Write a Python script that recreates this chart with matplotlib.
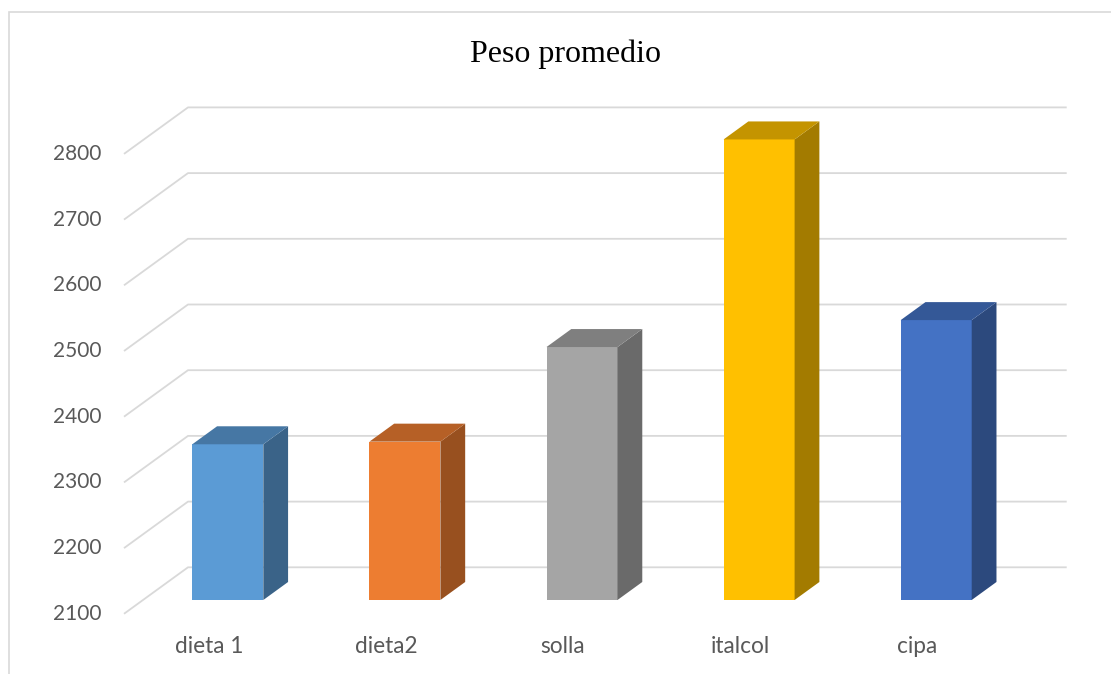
import numpy as np
import matplotlib.pyplot as plt
from matplotlib.patches import Polygon, Rectangle
from matplotlib.colors import to_rgb

# data
categories = ['dieta 1', 'dieta2', 'solla', 'italcol', 'cipa']
values = [2337, 2341, 2485, 2801, 2526]
bar_colors = ['#5B9BD5', '#ED7D31', '#A5A5A5', '#FFC000', '#4472C4']
ticks = [2100, 2200, 2300, 2400, 2500, 2600, 2700, 2800]
title = 'Peso promedio'

# layout of the fake 3d box (category units / value units)
W_PX, H_PX = 1111, 674
px_cat = 177.1          # pixels per category
cat0_px = 208.8         # pixel x of first category on front plane
px_val = 0.657          # pixels per value unit
floor_px = 613.8        # pixel y of 2100 on the front plane
base = 2100
DX = 64 / px_cat        # depth vector, x part
DY = 46.5 / px_val      # depth vector, y part
D0, D1 = 0.297, 0.684   # bar front / back depth
W = 71 / px_cat         # bar width
wall_x = (124 - cat0_px) / px_cat
wall_end = (1066.7 - cat0_px) / px_cat

def shade(c, f):
    r, g, b = to_rgb(c)
    return (r * f, g * f, b * f)

fig = plt.figure(figsize=(W_PX / 100, H_PX / 100), dpi=100)
ax = fig.add_axes([0, 0, 1, 1])
ax.set_xlim(-cat0_px / px_cat, (W_PX - cat0_px) / px_cat)
ax.set_ylim(base - (H_PX - floor_px) / px_val, base + floor_px / px_val)
ax.axis('off')

# gridlines: left wall oblique + back wall
grid_c = '#d9d9d9'
for t in ticks:
    ax.plot([wall_x, wall_x + DX, wall_end], [t, t + DY, t + DY],
            color=grid_c, lw=1.3, zorder=1, solid_capstyle='butt')
    ax.text((101.6 - cat0_px) / px_cat, t, str(t), ha='right', va='center',
            fontsize=15, color='#595959', family='Lato')

# bars
x = np.arange(len(categories))
xf = x + D0 * DX - W / 2
ax.bar(xf, np.array(values) - base, bottom=base + D0 * DY, width=W,
       align='edge', color=bar_colors, zorder=3, lw=0)
sdx = (D1 - D0) * DX
sdy = (D1 - D0) * DY
for xi, v, c in zip(xf, values, bar_colors):
    yb = base + D0 * DY
    yt = v + D0 * DY
    side = [(xi + W, yb), (xi + W + sdx, yb + sdy),
            (xi + W + sdx, yt + sdy), (xi + W, yt)]
    top = [(xi, yt), (xi + sdx, yt + sdy), (xi + W + sdx, yt + sdy), (xi + W, yt)]
    ax.add_patch(Polygon(side, closed=True, fc=shade(c, 0.64), lw=0, zorder=3))
    ax.add_patch(Polygon(top, closed=True, fc=shade(c, 0.77), lw=0, zorder=3))

# category labels on the front floor edge
for xi, lab in zip(x, categories):
    ax.text(xi, base - (652.7 - floor_px) / px_val, lab, ha='center', va='baseline',
            fontsize=16.3, color='#595959', family='Lato')

fig.text(565.5 / W_PX, 1 - 61.7 / H_PX, title, ha='center', va='baseline',
         fontsize=23, family='Liberation Serif', color='black')

# chart border
fig.patches.append(Rectangle((9 / W_PX, -0.05), 1.2, 1.05 - 12 / H_PX,
                             transform=fig.transFigure, fill=False,
                             ec='#d9d9d9', lw=1.2))

fig.savefig('out.png', dpi=100)
